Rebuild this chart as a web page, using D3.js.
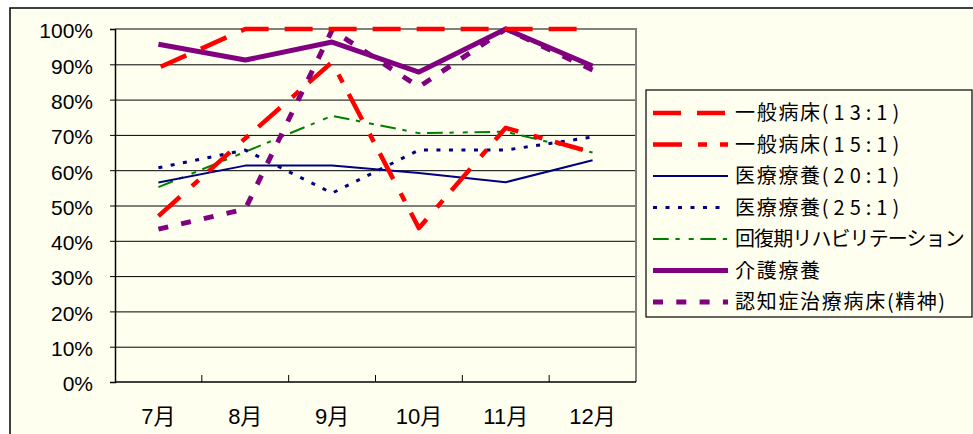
<!DOCTYPE html>
<meta charset="utf-8">
<style>
  body { margin: 0; background: #fff; }
  .tick-label { font-family: "Liberation Sans", "Noto Sans CJK JP", sans-serif; font-size: 21px; fill: #000; }
  .month-label { font-family: "Liberation Sans", "Noto Sans CJK JP", sans-serif; font-size: 22px; fill: #000; }
  .legend-label { font-family: "Noto Sans CJK JP", sans-serif; font-size: 20px; fill: #000; }
  .grid line { stroke: #000; stroke-width: 1; }
</style>
<body>
<script src="https://cdn.jsdelivr.net/npm/d3@7"></script>
<script>

var width = 973,
    height = 434;

// data
var months = ["7月", "8月", "9月", "10月", "11月", "12月"];
var yTicks = [0, 0.1, 0.2, 0.3, 0.4, 0.5, 0.6, 0.7, 0.8, 0.9, 1];

var general13 = [0.89, 1.00, 1.00, 1.00, 1.00, 1.00];
var general15 = [0.47, 0.69, 0.906, 0.436, 0.72, 0.65];
var medical20 = [0.565, 0.613, 0.613, 0.592, 0.566, 0.628];
var medical25 = [0.607, 0.657, 0.535, 0.657, 0.657, 0.694];
var recovery  = [0.552, 0.652, 0.754, 0.705, 0.709, 0.65];
var nursing   = [0.957, 0.912, 0.963, 0.878, 1.00, 0.895];
var dementia  = [0.433, 0.49, 0.997, 0.836, 1.00, 0.884];

var seriesNames = [
  ["一般病床", "(13:1)"],
  ["一般病床", "(15:1)"],
  ["医療療養", "(20:1)"],
  ["医療療養", "(25:1)"],
  ["回復期リハビリテーション", ""],
  ["介護療養", ""],
  ["認知症治療病床", "(精神)"]
];
var seriesValues = [general13, general15, medical20, medical25, recovery, nursing, dementia];

// line styles per series
var styles = [
  {color: "#ff0000", w: 4.5, dash: "28,16", offset: -2.5},
  {color: "#ff0000", w: 4.5, dash: "29,16,9,13", offset: 0},
  {color: "#000080", w: 2,   dash: null, offset: 0},
  {color: "#000080", w: 3,   dash: "4,8.5", offset: 0},
  {color: "#008000", w: 2,   dash: "15.7,6.7,4.3,9,5,6.7", offset: 0},
  {color: "#800080", w: 5,   dash: null, offset: 0},
  {color: "#800080", w: 5,   dash: "10,13.3", offset: 0}
];

var plot = {left: 115, top: 29, right: 636, bottom: 382};
var bg = "#fffff0";

var svg = d3.select("body").append("svg")
    .attr("width", width)
    .attr("height", height);

// chart area
svg.append("rect")
    .attr("x", 10).attr("y", 8)
    .attr("width", 1000).attr("height", 500)
    .attr("fill", bg)
    .attr("stroke", "#000")
    .attr("stroke-width", 1.5);

var x = d3.scaleBand()
    .domain(months)
    .range([plot.left, plot.right]);

var y = d3.scaleLinear()
    .domain([0, 1])
    .range([plot.bottom, plot.top]);

// gridlines
svg.append("g")
    .attr("class", "grid")
    .attr("transform", "translate(" + plot.left + ",0)")
    .call(d3.axisLeft(y).tickValues(yTicks.slice(1, -1)).tickSize(-(plot.right - plot.left)).tickFormat(""))
    .call(function(g) { g.select(".domain").remove(); });

// plot frame top / right in grey
svg.append("path")
    .attr("d", "M" + plot.left + "," + plot.top + "H" + plot.right + "V" + plot.bottom)
    .attr("fill", "none")
    .attr("stroke", "#808080")
    .attr("stroke-width", 2);

// y axis
var yAxis = svg.append("g")
    .attr("transform", "translate(" + plot.left + ",0)")
    .call(d3.axisLeft(y).tickValues(yTicks).tickSize(5).tickPadding(17).tickFormat(d3.format(".0%")));
yAxis.select(".domain").attr("stroke", "#000").attr("stroke-width", 1.5);
yAxis.selectAll("text").attr("class", "tick-label").attr("dy", "0.42em");

// x axis: ticks at category boundaries, pointing up
var xAxis = svg.append("g")
    .attr("transform", "translate(0," + plot.bottom + ")");
xAxis.append("line")
    .attr("x1", plot.left).attr("x2", plot.right)
    .attr("stroke", "#000").attr("stroke-width", 1.5);
xAxis.selectAll(".xtick")
    .data(months.slice(1))
  .enter().append("line")
    .attr("x1", function(d) { return x(d); })
    .attr("x2", function(d) { return x(d); })
    .attr("y1", 0).attr("y2", -7)
    .attr("stroke", "#000");
xAxis.selectAll(".xlabel")
    .data(months)
  .enter().append("text")
    .attr("class", "month-label")
    .attr("x", function(d) { return x(d) + x.bandwidth() / 2; })
    .attr("y", 42)
    .attr("text-anchor", "middle")
    .text(function(d) { return d; });

// series lines
var line = d3.line()
    .x(function(d, i) { return x(months[i]) + x.bandwidth() / 2; })
    .y(function(d) { return y(d); });

var drawOrder = [4, 2, 3, 1, 5, 6, 0];
drawOrder.forEach(function(k) {
  svg.append("path")
      .datum(seriesValues[k])
      .attr("d", line)
      .attr("fill", "none")
      .attr("stroke", styles[k].color)
      .attr("stroke-width", styles[k].w)
      .attr("stroke-dasharray", styles[k].dash)
      .attr("stroke-dashoffset", styles[k].offset)
      .attr("stroke-linejoin", "round");
});

// legend
var legend = svg.append("g").attr("transform", "translate(646,90)");
legend.append("rect")
    .attr("width", 326).attr("height", 227)
    .attr("fill", bg)
    .attr("stroke", "#000")
    .attr("stroke-width", 1.2);

var item = legend.selectAll(".item")
    .data(seriesNames)
  .enter().append("g")
    .attr("transform", function(d, i) { return "translate(0," + (23 + i * 31.5) + ")"; });

item.append("line")
    .attr("x1", 7).attr("x2", 82)
    .attr("stroke", function(d, i) { return styles[i].color; })
    .attr("stroke-width", function(d, i) { return styles[i].w; })
    .attr("stroke-dasharray", function(d, i) { return styles[i].dash; });

var label = item.append("text")
    .attr("class", "legend-label")
    .attr("x", 89)
    .attr("dy", "0.36em");
label.append("tspan")
    .attr("letter-spacing", function(d) { return /[ァ-ン]/.test(d[0]) ? "-0.9px" : "1.7px"; })
    .text(function(d) { return d[0]; });
label.append("tspan")
    .attr("letter-spacing", function(d) { return /\d/.test(d[1]) ? "5px" : "1.5px"; })
    .text(function(d) { return d[1]; });

</script>
